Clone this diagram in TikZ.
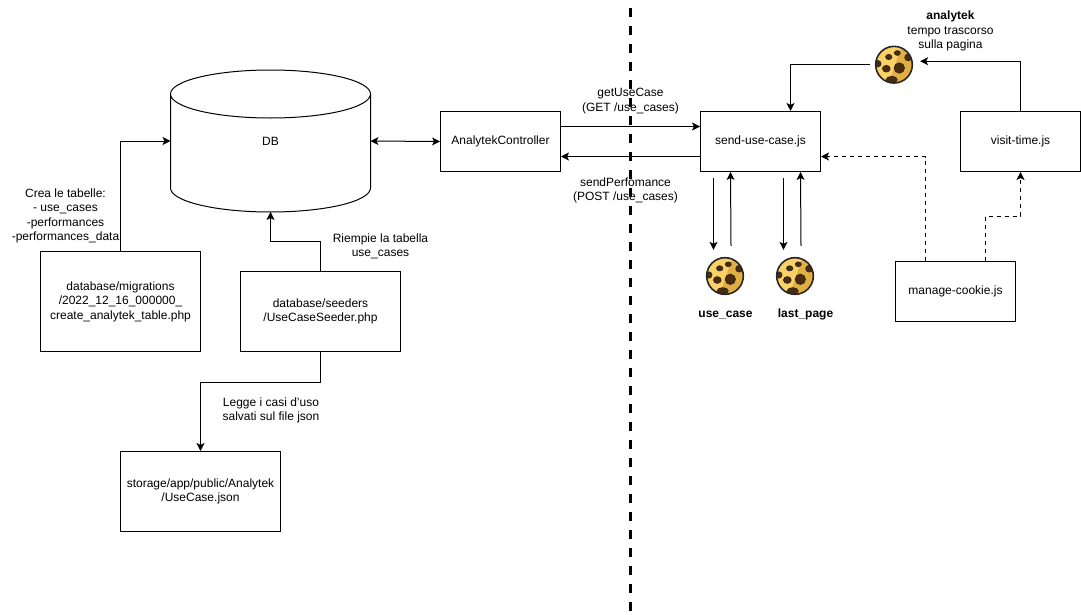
\documentclass[tikz,border=0pt]{standalone}
\usepackage{fontspec}
\setmainfont{Liberation Sans}
\usetikzlibrary{positioning,calc}
\usetikzlibrary{arrows.meta}

\definecolor{cookiebase}{HTML}{E2AE42}
\definecolor{cookielight}{HTML}{FBD165}
\definecolor{cookieline}{HTML}{262626}
\definecolor{cookiechip}{HTML}{4A2C0C}

\tikzset{
    filebox/.style={draw, minimum width=90pt, minimum height=45pt, inner sep=0pt, align=center},
    label/.style={align=center, inner sep=0pt},
    cookie/.style={circle, draw=cookieline, line width=1.2pt, fill=cookiebase, minimum size=27.5pt, inner sep=0pt,
        path picture={
            \begin{scope}[shift={(path picture bounding box.center)}]
                \fill[cookielight] (-20,-20) -- (8,-20) -- (-6,20) -- (-20,20) -- cycle;
                \foreach \cx/\cy/\rx/\ry in {5.3/3.3/5.2/5.2, -7.7/4/3.9/3.4, -5.3/-7.7/3.2/2.6, 3.3/-11.7/3/2.4, 14.3/-7.3/3.6/3.4, -16/-1/3/3.2, -2.3/15/5.6/3.4}
                    \fill[cookiechip, draw=cookieline, line width=.5pt] (\cx,\cy) ellipse [x radius=\rx, y radius=\ry];
            \end{scope}
        }},
}

\begin{document}
\begin{tikzpicture}[x=.75pt, y=-.75pt, line width=.75pt, >={Stealth[length=6pt, width=6pt, inset=1.5pt]},
    font=\fontsize{9}{10.8}\selectfont]
        \useasboundingbox (0,0) rectangle (1081,614);

        % separator
        \coordinate (sepTop) at (630.5,8);
        \coordinate (sepBottom) at (630.5,612);
        \draw[line width=2.25pt, dash pattern=on 6.75pt off 6.75pt] (sepTop) -- (sepBottom);

        % left side
        \node[minimum width=150pt, minimum height=106.5pt, inner sep=0pt, outer sep=0pt] (DB) at (270.5,141) {DB};
        \draw ($(DB.north west)+(0,24)$) arc [start angle=180, end angle=540, x radius=75pt, y radius=18pt]
            -- ($(DB.south west)+(0,-24)$) arc [start angle=180, end angle=360, x radius=75pt, y radius=18pt]
            -- ($(DB.north east)+(0,24)$);
        \node[filebox] (controller) at (500.5,141.5) {AnalytekController};
        \node[filebox, minimum width=120pt, minimum height=75pt] (migrations) at (120.5,301.5) {database/migrations\\/2022\_12\_16\_000000\_\\create\_analytek\_table.php};
        \node[filebox, minimum width=120pt, minimum height=60pt] (seeder) at (320.5,311.5) {database/seeders\\/UseCaseSeeder.php};
        \node[filebox, minimum width=120pt, minimum height=60pt] (storage) at (200.5,491.5) {storage/app/public/Analytek\\/UseCase.json};

        % right side
        \node[filebox] (sendUseCase) at (760.5,141.5) {send-use-case.js};
        \node[filebox] (visitTime) at (1020.5,141.5) {visit-time.js};
        \node[filebox] (manageCookie) at (955.5,291.5) {manage-cookie.js};
        \node[cookie] (cookieUse) at (725,276) {};
        \node[cookie] (cookieLast) at (795,276) {};
        \node[cookie] (cookieAnalytek) at (894,64.7) {};

        \draw[->] (migrations.north) |- (DB.west);
        \draw[->] (seeder.north) -- ++(0,-30) -| (DB.south);
        \draw[->] (seeder.south) -- ++(0,30) -| (storage.north);
        \draw[<->] (DB.east) -- (controller.west);
        \draw[->] ($(controller.east)+(0,-15)$) -- ($(sendUseCase.west)+(0,-15)$);
        \draw[->] ($(sendUseCase.west)+(0,15)$) -- ($(controller.east)+(0,15)$);

        \draw[->] ($(cookieAnalytek.west)+(-5,0)$) -| ($(sendUseCase.north)+(30,0)$);
        \draw[->] (visitTime.north) |- ($(cookieAnalytek.east)+(7,-3.5)$);
        \draw[->] ($(sendUseCase.south)+(-47,6)$) -- ($(cookieUse.north)+(-11.5,-7)$);
        \draw[->] ($(cookieUse.north)+(6,-11)$) -- ($(sendUseCase.south)+(-30,0)$);
        \draw[->] ($(sendUseCase.south)+(23,6)$) -- ($(cookieLast.north)+(-11.5,-7)$);
        \draw[->] ($(cookieLast.north)+(6,-11)$) -- ($(sendUseCase.south)+(40,0)$);
        \draw[->, dashed] ($(manageCookie.north)+(-30,0)$) |- ($(sendUseCase.east)+(0,15)$);
        \draw[->, dashed] ($(manageCookie.north)+(30,0)$) -- ++(0,-45) -| (visitTime.south);

        % labels
        \node[label] (tablesText) at (65.5,216) {Crea le tabelle:\\- use\_cases\\-performances\\-performances\_data};
        \node[label] (fillText) at (380.5,246.5) {Riempie la tabella\\use\_cases};
        \node[label] (readText) at (271,410.5) {Legge i casi d'uso\\salvati sul file json};
        \node[label] (getText) at (630.5,101) {getUseCase\\(GET /use\_cases)};
        \node[label] (postText) at (625.5,190.5) {sendPerfomance\\(POST /use\_cases)};
        \node[label] (analytekText) at (950.5,31) {\textbf{analytek}\\tempo trascorso\\sulla pagina};
        \node[label] (useCaseText) at (725.5,314.5) {\textbf{use\_case}};
        \node[label] (lastPageText) at (805.5,314.5) {\textbf{last\_page}};
    \end{tikzpicture}
\end{document}
